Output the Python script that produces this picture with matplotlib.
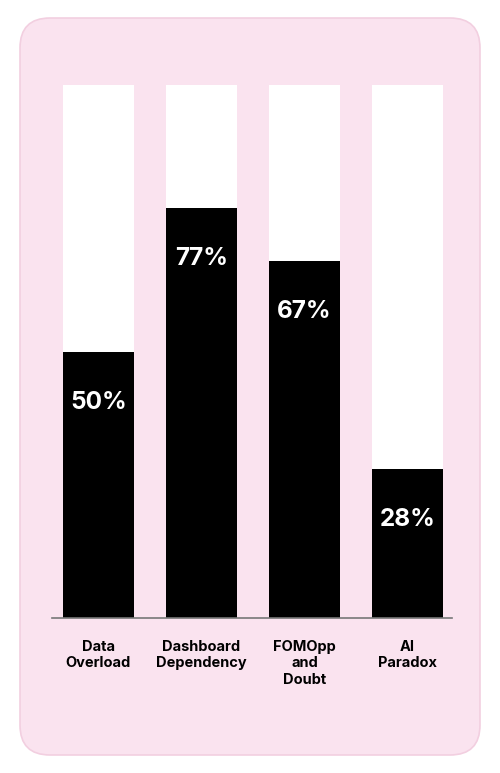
import matplotlib
matplotlib.use("Agg")
import matplotlib.pyplot as plt
from matplotlib.patches import FancyBboxPatch

categories = ["Data\nOverload", "Dashboard\nDependency", "FOMOpp\nand\nDoubt", "AI\nParadox"]
values = [50, 77, 67, 28]
value_labels = ["50%", "77%", "67%", "28%"]
full = [100, 100, 100, 100]

W, H = 500, 773
fig = plt.figure(figsize=(W / 100, H / 100), dpi=100)
fig.patch.set_facecolor("white")

# rounded pink card
card = FancyBboxPatch((20 / W, 18 / H), 460 / W, 737 / H,
                      boxstyle="round,pad=0,rounding_size=0.06",
                      transform=fig.transFigure, facecolor="#FAE3EF",
                      edgecolor="#F2CFE0", linewidth=1.2,
                      mutation_aspect=W / H, zorder=-10)
fig.patches.append(card)

ax = fig.add_axes([52 / W, (H - 618) / H, 400 / W, 533 / H])
ax.set_zorder(5)
ax.set_facecolor("none")
x = list(range(len(categories)))
bw = 71 / 103
ax.bar(x, full, width=bw, color="white", zorder=1)
ax.bar(x, values, width=bw, color="black", zorder=2)
ax.set_xlim(-46.5 / 103, -46.5 / 103 + 400 / 103)
ax.set_ylim(0, 100)

for xi, v, lab in zip(x, values, value_labels):
    ax.annotate(lab, (xi, v), xytext=(0, -36.5), textcoords="offset points",
                ha="center", va="center", color="white", fontsize=17.5,
                fontweight="bold", family=["Inter", "DejaVu Sans"], zorder=3)

for s in ["top", "right", "left"]:
    ax.spines[s].set_visible(False)
ax.spines["bottom"].set_color("#777777")
ax.spines["bottom"].set_linewidth(1.2)
ax.set_yticks([])
ax.set_xticks(x)
ax.set_xticklabels(categories, fontsize=10.5, fontweight="bold",
                   family=["Inter", "DejaVu Sans"], linespacing=1.2)
ax.tick_params(axis="x", length=0, pad=16)

fig.savefig("out.png", dpi=100)
